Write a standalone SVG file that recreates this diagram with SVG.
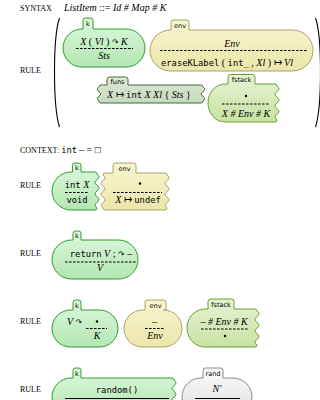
<svg xmlns="http://www.w3.org/2000/svg" width="320" height="400" viewBox="0 0 320 400">
  <defs>
    <linearGradient id="gK" x1="0" y1="0" x2="0" y2="1">
      <stop offset="0" stop-color="#ddf8dd"/>
      <stop offset="1" stop-color="#b3e6b3"/>
    </linearGradient>
    <linearGradient id="gEnv" x1="0" y1="0" x2="0" y2="1">
      <stop offset="0" stop-color="#f8f5cf"/>
      <stop offset="1" stop-color="#ebe6aa"/>
    </linearGradient>
    <linearGradient id="gFs" x1="0" y1="0" x2="0" y2="1">
      <stop offset="0" stop-color="#e6f3d3"/>
      <stop offset="1" stop-color="#c8e2a3"/>
    </linearGradient>
    <linearGradient id="gFuns" x1="0" y1="0" x2="0" y2="1">
      <stop offset="0" stop-color="#dde9d6"/>
      <stop offset="1" stop-color="#c6d9bd"/>
    </linearGradient>
    <linearGradient id="gRand" x1="0" y1="0" x2="0" y2="1">
      <stop offset="0" stop-color="#fafafa"/>
      <stop offset="1" stop-color="#e2e2e2"/>
    </linearGradient>
  </defs>
  <style>
    .lbl { font-family: "Liberation Serif", serif; font-size: 8px; fill: #000; }
    .tab { font-family: "DejaVu Sans", sans-serif; font-size: 6.5px; fill: #000; }
    .rm { font-family: "Liberation Serif", serif; font-size: 10px; fill: #000; }
    .it { font-family: "Liberation Serif", serif; font-style: italic; font-size: 10px; }
    .tt { font-family: "DejaVu Sans Mono", monospace; font-size: 8.8px; font-style: normal; }
    .sym { font-family: "DejaVu Sans", sans-serif; font-size: 8px; font-style: normal; }
    .up { font-style: normal; }
    .k { fill: url(#gK); stroke: #2f9b2f; stroke-width: 1; }
    .env { fill: url(#gEnv); stroke: #a9a26a; stroke-width: 1; }
    .fs { fill: url(#gFs); stroke: #6b9e31; stroke-width: 1; }
    .funs { fill: url(#gFuns); stroke: #3f6c34; stroke-width: 1; }
    .rand { fill: url(#gRand); stroke: #8a8a8a; stroke-width: 1; }
    .dash { stroke: #000; stroke-width: 1; stroke-dasharray: 2.6 1.4; fill: none; }
    .bar { stroke: #000; stroke-width: 1; fill: none; }
    .paren { stroke: #000; stroke-width: 1.1; fill: none; }
  </style>
  <rect width="320" height="400" fill="#fff"/>

  <!-- headings -->
  <g id="headings">
    <text x="20" y="11" class="lbl">SYNTAX</text>
    <text x="64" y="11" class="it">ListItem <tspan class="up">::=</tspan> Id # Map # K</text>
    <text x="20" y="73" class="lbl">RULE</text>
    <text x="20" y="153" class="lbl">CONTEXT: <tspan class="tt">int</tspan> <tspan class="rm">– = □</tspan></text>
    <text x="20" y="187.5" class="lbl">RULE</text>
    <text x="20" y="256" class="lbl">RULE</text>
    <text x="20" y="324" class="lbl">RULE</text>
    <text x="20" y="392" class="lbl">RULE</text>
  </g>

  <!-- bracket around the first rule -->
  <g id="connectors">
    <path class="paren" d="M59.5 18 C56 28 54.5 45 54.5 72 C54.5 99 56 116 59.5 127"/>
    <path class="paren" d="M315.5 18 C319 28 320.5 45 320.5 72 C320.5 99 319 116 315.5 127"/>
  </g>

  <!-- rule 1 -->
  <g id="r1-k">
    <path class="k" d="M82 29 H83 V20.5 Q83 18 85.5 18 H90.5 Q93 18 93 20.5 V29 H126 A19 19 0 0 1 126 67 H82 A19 19 0 0 1 82 29 Z"/>
    <text x="88" y="26" class="tab" text-anchor="middle">k</text>
    <text x="104" y="44.5" class="rm" text-anchor="middle"><tspan class="it">X</tspan> ( <tspan class="it">Vl</tspan> ) <tspan class="sym">↷</tspan> <tspan class="it">K</tspan></text>
    <line class="dash" x1="76" y1="48.5" x2="133" y2="48.5"/>
    <text x="104" y="59" class="it" text-anchor="middle">Sts</text>
  </g>
  <g id="r1-env">
    <path class="env" d="M170.5 30 H171 V22.5 Q171 20 173.5 20 H186.5 Q189 20 189 22.5 V30 H292.5 A20.5 20.5 0 0 1 292.5 71 H170.5 A20.5 20.5 0 0 1 170.5 30 Z"/>
    <text x="180" y="27.5" class="tab" text-anchor="middle">env</text>
    <text x="232" y="46.5" class="it" text-anchor="middle">Env</text>
    <line class="dash" x1="160" y1="50.5" x2="307" y2="50.5"/>
    <text x="161" y="66" class="rm"><tspan class="tt">eraseKLabel</tspan> ( <tspan class="tt">int_</tspan> , <tspan class="it">Xl</tspan> ) ↦ <tspan class="it">Vl</tspan></text>
  </g>
  <g id="r1-funs">
    <path class="funs" d="M101 85 H107 V79.5 Q107 77 109.5 77 H125.5 Q128 77 128 79.5 V85 H201 Q203 85 203 87 q3.5 2.333 0 4.667 t0 4.667 t0 4.667 Q203 103 201 103 H101 Q99 103 99 101 q-3.5 -2.333 0 -4.667 t0 -4.667 t0 -4.667 Q99 85 101 85 Z"/>
    <text x="117.5" y="83.5" class="tab" text-anchor="middle">funs</text>
    <text x="107" y="98" class="rm"><tspan class="it">X</tspan> ↦ <tspan class="tt">int</tspan> <tspan class="it">X</tspan>  <tspan class="it">Xl</tspan> { <tspan class="it">Sts</tspan> }</text>
  </g>
  <g id="r1-fstack">
    <path class="fs" d="M225 84 H228 V77 Q228 74.5 230.5 74.5 H252.5 Q255 74.5 255 77 V84 H275 Q277 84 277 86 q4 2.833 0 5.667 t0 5.667 t0 5.667 t0 5.667 t0 5.667 t0 5.667 Q277 122 275 122 H225 A17 19 0 0 1 225 84 Z"/>
    <text x="241.5" y="82" class="tab" text-anchor="middle">fstack</text>
    <circle cx="246" cy="96" r="1.2" fill="#000"/>
    <line class="dash" x1="222" y1="104" x2="270" y2="104"/>
    <text x="246" y="117" class="it" text-anchor="middle">X # Env # K</text>
  </g>

  <!-- rule 2 -->
  <g id="r2-k">
    <path class="k" d="M71 172 H72.5 V165.5 Q72.5 163 75 163 H78.5 Q81 163 81 165.5 V172 H95 Q97 172 97 174 q4 2.833 0 5.667 t0 5.667 t0 5.667 t0 5.667 t0 5.667 t0 5.667 Q97 210 95 210 H71 A19 19 0 0 1 71 172 Z"/>
    <text x="76.8" y="170" class="tab" text-anchor="middle">k</text>
    <text x="77" y="187.5" class="rm" text-anchor="middle"><tspan class="tt">int</tspan> <tspan class="it">X</tspan></text>
    <line class="dash" x1="65" y1="192.5" x2="89" y2="192.5"/>
    <text x="77" y="202.5" class="tt" text-anchor="middle">void</text>
  </g>
  <g id="r2-env">
    <path class="env" d="M105 173 H113 V165.5 Q113 163 115.5 163 H133.5 Q136 163 136 165.5 V173 H165 Q167 173 167 175 q4 2.75 0 5.5 t0 5.5 t0 5.5 t0 5.5 t0 5.5 t0 5.5 Q167 210 165 210 H105 Q103 210 103 208 q-4 -2.75 0 -5.5 t0 -5.5 t0 -5.5 t0 -5.5 t0 -5.5 t0 -5.5 Q103 173 105 173 Z"/>
    <text x="124.5" y="170.5" class="tab" text-anchor="middle">env</text>
    <circle cx="140" cy="183.5" r="1.2" fill="#000"/>
    <line class="dash" x1="113" y1="192.5" x2="162" y2="192.5"/>
    <text x="138" y="202.5" class="rm" text-anchor="middle"><tspan class="it">X</tspan> ↦ <tspan class="tt">undef</tspan></text>
  </g>

  <!-- rule 3 -->
  <g id="r3-k">
    <path class="k" d="M71.5 240 H73 V233.5 Q73 231 75.5 231 H78.5 Q81 231 81 233.5 V240 H118.5 A19.5 19.5 0 0 1 118.5 279 H71.5 A19.5 19.5 0 0 1 71.5 240 Z"/>
    <text x="77" y="238" class="tab" text-anchor="middle">k</text>
    <text x="101" y="256.5" class="rm" text-anchor="middle"><tspan class="tt">return</tspan> <tspan class="it">V</tspan> ; <tspan class="sym">↷</tspan> –</text>
    <line class="dash" x1="65" y1="262" x2="137" y2="262"/>
    <text x="100" y="270.5" class="it" text-anchor="middle">V</text>
  </g>

  <!-- rule 4 -->
  <g id="r4-k">
    <path class="k" d="M70.5 310 H73 V302.5 Q73 300 75.5 300 H78.5 Q81 300 81 302.5 V310 H99.5 A18.5 18.5 0 0 1 99.5 347 H70.5 A18.5 18.5 0 0 1 70.5 310 Z"/>
    <text x="77" y="307.5" class="tab" text-anchor="middle">k</text>
    <text x="67" y="325" class="it"><tspan>V</tspan> <tspan class="sym">↷</tspan></text>
    <circle cx="97" cy="321.5" r="1.2" fill="#000"/>
    <line class="dash" x1="86" y1="328.5" x2="107" y2="328.5"/>
    <text x="97" y="338.5" class="it" text-anchor="middle">K</text>
  </g>
  <g id="r4-env">
    <path class="env" d="M143 310 H145 V302.5 Q145 300 147.5 300 H163.5 Q166 300 166 302.5 V310 H163.5 A18.5 18.5 0 0 1 163.5 347 H142.5 A18.5 18.5 0 0 1 142.5 310 Z"/>
    <text x="155.5" y="307.5" class="tab" text-anchor="middle">env</text>
    <text x="154.5" y="324.5" class="rm" text-anchor="middle">–</text>
    <line class="dash" x1="145" y1="328.5" x2="164" y2="328.5"/>
    <text x="155" y="338.5" class="it" text-anchor="middle">Env</text>
  </g>
  <g id="r4-fstack">
    <path class="fs" d="M205 309 H208 V301.5 Q208 299 210.5 299 H231.5 Q234 299 234 301.5 V309 H255 Q257 309 257 311 q4 2.833 0 5.667 t0 5.667 t0 5.667 t0 5.667 t0 5.667 t0 5.667 Q257 347 255 347 H205 A18 19 0 0 1 205 309 Z"/>
    <text x="221" y="306.5" class="tab" text-anchor="middle">fstack</text>
    <text x="224" y="324.5" class="it" text-anchor="middle"><tspan class="up">–</tspan> # Env # K</text>
    <line class="dash" x1="201" y1="329" x2="249" y2="329"/>
    <circle cx="225" cy="336" r="1.2" fill="#000"/>
  </g>

  <!-- rule 5 -->
  <g id="r5-k">
    <path class="k" d="M71 378 H73 V370.5 Q73 368 75.5 368 H78.5 Q81 368 81 370.5 V378 H172 Q174 378 174 380 q4 2.833 0 5.667 t0 5.667 t0 5.667 t0 5.667 t0 5.667 t0 5.667 Q174 416 172 416 H71 A19 19 0 0 1 71 378 Z"/>
    <text x="77" y="375.5" class="tab" text-anchor="middle">k</text>
    <text x="117" y="392.5" class="tt" text-anchor="middle">random()</text>
    <line class="bar" x1="65" y1="398.5" x2="169" y2="398.5"/>
  </g>
  <g id="r5-rand">
    <path class="rand" d="M201 378 H203 V370.5 Q203 368 205.5 368 H220.5 Q223 368 223 370.5 V378 H233 A19 19 0 0 1 233 416 H201 A19 19 0 0 1 201 378 Z"/>
    <text x="213" y="375.5" class="tab" text-anchor="middle">rand</text>
    <text x="217" y="392" class="it" text-anchor="middle">N′</text>
    <line class="bar" x1="195" y1="398.5" x2="240" y2="398.5"/>
  </g>
</svg>
